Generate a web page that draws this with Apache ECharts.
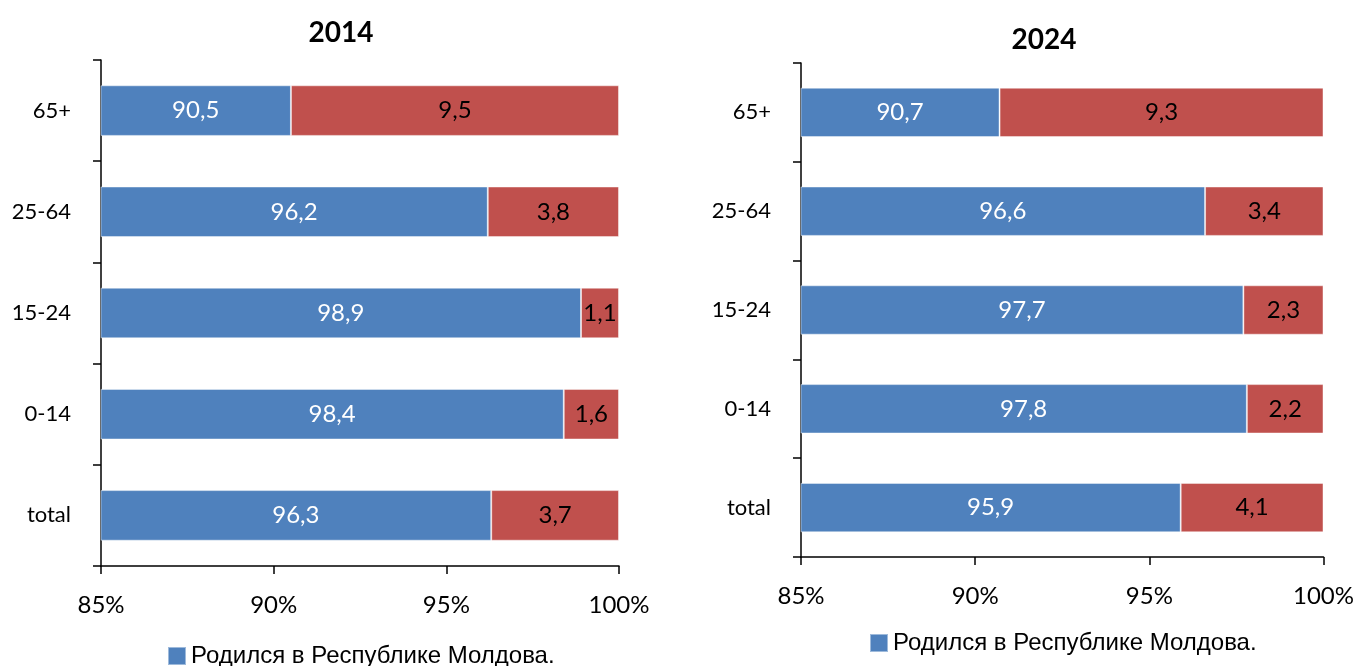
<!DOCTYPE html>
<html>
<head>
<meta charset="utf-8">
<title>2014 / 2024</title>
<script src="https://cdn.jsdelivr.net/npm/echarts@6/dist/echarts.min.js"></script>
<style>
    html, body { margin: 0; padding: 0; background: #fff; }
    #chart { width: 1357px; height: 666px; }
</style>
</head>
<body>
<div id="chart"></div>
<script>
// Age groups, top to bottom
var ageGroups = ['65+', '25-64', '15-24', '0-14', 'total'];

var bornMd2014 = [90.5, 96.2, 98.9, 98.4, 96.3];
var bornAbroad2014 = [9.5, 3.8, 1.1, 1.6, 3.7];

var bornMd2024 = [90.7, 96.6, 97.7, 97.8, 95.9];
var bornAbroad2024 = [9.3, 3.4, 2.3, 2.2, 4.1];

var xTicks = [85, 90, 95, 100];
var panelTitles = ['2014', '2024'];
var legendLabel = 'Родился в Республике Молдова.';
var otherLabel = 'Родился за пределами Республики Молдова';

var BLUE = '#4F81BD';
var RED = '#C0504D';
var LABEL_FONT = 'Lato, "Open Sans", sans-serif';

/**
 * Axis pair for one panel
 */
function makeAxes(idx) {
    var xAxis = {
        type: 'value',
        gridIndex: idx,
        min: xTicks[0],
        max: xTicks[xTicks.length - 1],
        interval: 5,
        axisLine: { show: true, lineStyle: { color: '#000', width: 1.5 } },
        axisTick: { show: true, length: 8, lineStyle: { color: '#000', width: 1.5 } },
        splitLine: { show: false },
        axisLabel: {
            margin: 27,
            color: '#000',
            fontFamily: LABEL_FONT,
            fontSize: 24,
            formatter: function(v) { return v + '%'; }
        }
    };
    var yAxis = {
        type: 'category',
        gridIndex: idx,
        inverse: true,
        data: ageGroups,
        axisLine: { show: true, lineStyle: { color: '#000', width: 1.5 } },
        axisTick: { show: true, length: 8, lineStyle: { color: '#000', width: 1.5 } },
        axisLabel: {
            margin: 30,
            color: '#000',
            fontFamily: LABEL_FONT,
            fontSize: 22
        }
    };
    return { x: xAxis, y: yAxis };
}

function fmt(p) {
    return p.value.toFixed(1).replace('.', ',');
}

function makeSeries(idx, inside, outside) {
    return [{
        name: legendLabel,
        type: 'bar',
        stack: 'p' + idx,
        xAxisIndex: idx,
        yAxisIndex: idx,
        barWidth: '50%',
        data: inside,
        itemStyle: { color: BLUE, borderColor: 'rgba(255,255,255,0.45)', borderWidth: 1 },
        label: {
            show: true,
            position: 'inside',
            color: '#fff',
            fontFamily: LABEL_FONT,
            fontSize: 24,
            formatter: fmt
        }
    }, {
        name: otherLabel,
        type: 'bar',
        stack: 'p' + idx,
        xAxisIndex: idx,
        yAxisIndex: idx,
        barWidth: '50%',
        data: outside,
        itemStyle: { color: RED, borderColor: 'rgba(255,255,255,0.45)', borderWidth: 1 },
        label: {
            show: true,
            position: 'inside',
            color: '#000',
            fontFamily: LABEL_FONT,
            fontSize: 24,
            formatter: fmt
        }
    }];
}

var chart = echarts.init(document.getElementById('chart'));

var axesL = makeAxes(0);
var axesR = makeAxes(1);

var option = {
    animation: false,
    title: [{
        text: panelTitles[0],
        left: 336,
        top: 14,
        textAlign: 'center',
        textStyle: { fontFamily: LABEL_FONT, fontSize: 28, fontWeight: 'bold', color: '#000' }
    }, {
        text: panelTitles[1],
        left: 1039,
        top: 21,
        textAlign: 'center',
        textStyle: { fontFamily: LABEL_FONT, fontSize: 28, fontWeight: 'bold', color: '#000' }
    }],
    legend: [{
        data: [legendLabel],
        left: 167,
        top: 644,
        padding: 0,
        icon: 'rect',
        itemWidth: 18,
        itemHeight: 18,
        itemGap: 10,
        textStyle: { fontFamily: '"Liberation Sans", Arial, sans-serif', fontSize: 24, color: '#000' }
    }, {
        data: [legendLabel],
        left: 869,
        top: 631,
        padding: 0,
        icon: 'rect',
        itemWidth: 18,
        itemHeight: 18,
        itemGap: 10,
        textStyle: { fontFamily: '"Liberation Sans", Arial, sans-serif', fontSize: 24, color: '#000' }
    }],
    grid: [
        { left: 101, top: 60, width: 518, height: 506 },
        { left: 801, top: 63, width: 523, height: 494 }
    ],
    xAxis: [axesL.x, axesR.x],
    yAxis: [axesL.y, axesR.y],
    series: makeSeries(0, bornMd2014, bornAbroad2014).concat(makeSeries(1, bornMd2024, bornAbroad2024))
};

chart.setOption(option);
</script>
</body>
</html>
